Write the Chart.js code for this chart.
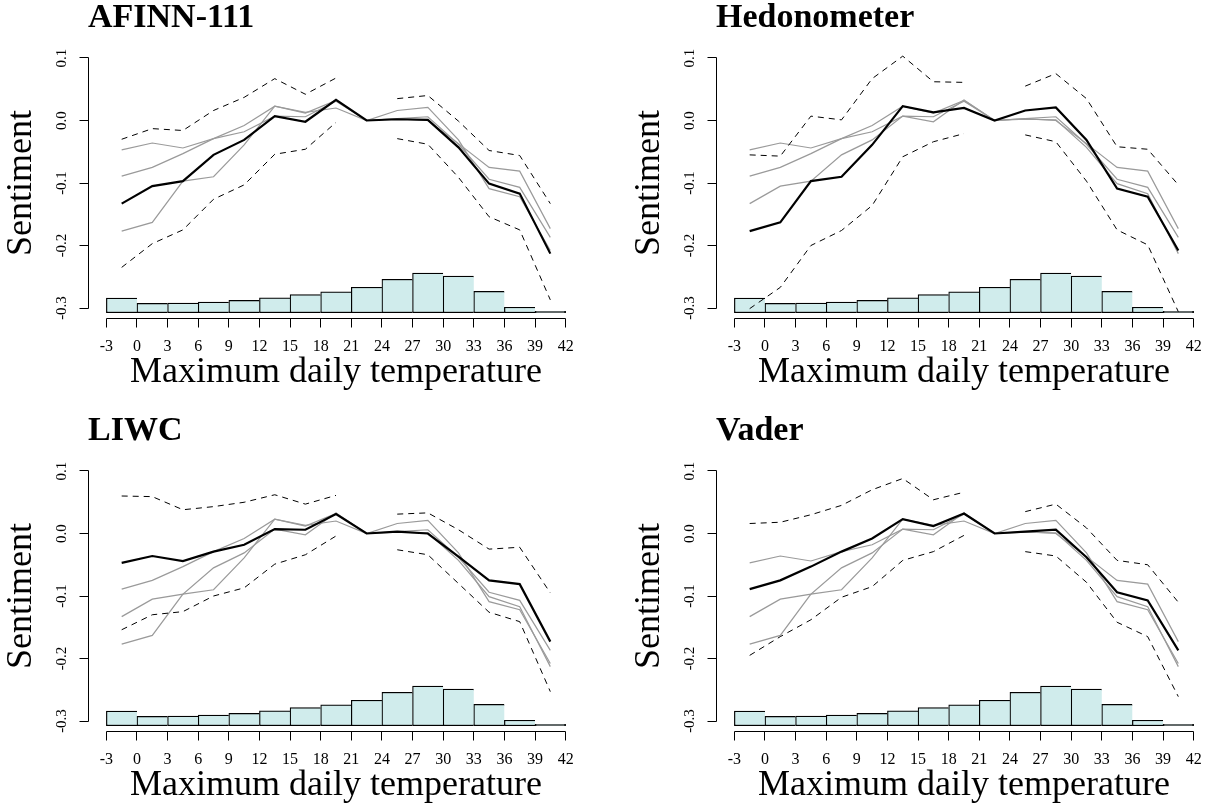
<!DOCTYPE html>
<html>
<head>
<meta charset="utf-8">
<script src="https://cdn.jsdelivr.net/npm/chart.js@4.4.1/dist/chart.umd.min.js"></script>
<style>
  html, body { margin: 0; padding: 0; background: #fff; overflow: hidden; }
  #wrap { position: relative; width: 1212px; height: 807px; }
  .panel { position: absolute; width: 584px; height: 394px; }
</style>
</head>
<body>
<div id="wrap">
  <div class="panel" style="left:0;top:0"><canvas id="afinn" width="584" height="394"></canvas></div>
  <div class="panel" style="left:628px;top:0"><canvas id="hedo" width="584" height="394"></canvas></div>
  <div class="panel" style="left:0;top:413px"><canvas id="liwc" width="584" height="394"></canvas></div>
  <div class="panel" style="left:628px;top:413px"><canvas id="vader" width="584" height="394"></canvas></div>
</div>
<script>
// bin centres of the 3-degree temperature bins
const temps = [-1.5, 1.5, 4.5, 7.5, 10.5, 13.5, 16.5, 19.5, 22.5, 25.5, 28.5, 31.5, 34.5, 37.5, 40.5];
const tempTicks = [-3, 0, 3, 6, 9, 12, 15, 18, 21, 24, 27, 30, 33, 36, 39, 42];
const sentTicks = [-0.3, -0.2, -0.1, 0.0, 0.1];

// share of days in each bin (%), drawn as the histogram at the bottom
const histShare = [5.3, 3.4, 3.5, 3.9, 4.5, 5.4, 6.6, 7.6, 9.3, 12.2, 14.5, 13.4, 7.8, 2.0, 0.5];

const afinnMean  = [-0.133, -0.105, -0.097, -0.055, -0.031, 0.007, -0.002, 0.033, 0, 0.002, 0.001, -0.043, -0.101, -0.117, -0.213];
const afinnUpper = [-0.030, -0.013, -0.016, 0.016, 0.037, 0.067, 0.042, 0.068, null, 0.035, 0.040, -0.001, -0.048, -0.056, -0.133];
const afinnLower = [-0.235, -0.197, -0.175, -0.126, -0.103, -0.054, -0.046, -0.003, null, -0.029, -0.038, -0.091, -0.154, -0.175, -0.287];

const hedoMean  = [-0.177, -0.163, -0.097, -0.090, -0.039, 0.023, 0.013, 0.020, 0, 0.016, 0.021, -0.031, -0.109, -0.122, -0.208];
const hedoUpper = [-0.055, -0.057, 0.007, 0.001, 0.067, 0.103, 0.062, 0.061, null, 0.055, 0.075, 0.035, -0.042, -0.046, -0.103];
const hedoLower = [-0.301, -0.267, -0.200, -0.176, -0.136, -0.058, -0.034, -0.021, null, -0.023, -0.034, -0.097, -0.175, -0.199, -0.306];

const liwcMean  = [-0.047, -0.036, -0.044, -0.029, -0.018, 0.007, 0.006, 0.031, 0, 0.003, 0.000, -0.037, -0.075, -0.081, -0.173];
const liwcUpper = [0.060, 0.059, 0.038, 0.043, 0.050, 0.062, 0.047, 0.061, null, 0.031, 0.033, 0.006, -0.025, -0.022, -0.095];
const liwcLower = [-0.154, -0.130, -0.125, -0.100, -0.087, -0.049, -0.034, -0.004, null, -0.026, -0.034, -0.080, -0.126, -0.141, -0.253];

const vaderMean  = [-0.089, -0.075, -0.053, -0.029, -0.008, 0.023, 0.012, 0.032, 0, 0.003, 0.006, -0.038, -0.094, -0.107, -0.187];
const vaderUpper = [0.016, 0.018, 0.030, 0.045, 0.070, 0.088, 0.054, 0.066, null, 0.035, 0.047, 0.009, -0.043, -0.050, -0.110];
const vaderLower = [-0.195, -0.165, -0.138, -0.102, -0.085, -0.043, -0.029, -0.003, null, -0.029, -0.036, -0.078, -0.142, -0.165, -0.261];

Chart.defaults.font.family = "'Liberation Serif', 'Times New Roman', serif";
Chart.defaults.color = '#000';

const toPoints = (arr) => arr.map((v, i) => ({ x: temps[i], y: v }));
const crisp = (px) => Math.round(px - 0.5) + 0.5;

// R style axes: line only from first to last tick, tick marks pointing out
const axisLines = {
  id: 'axisLines',
  afterDraw(chart) {
    const { ctx, chartArea, scales } = chart;
    const x = scales.x, y = scales.y;
    const lx = crisp(chartArea.left);
    const by = crisp(chartArea.bottom);
    ctx.save();
    ctx.strokeStyle = '#000';
    ctx.lineWidth = 1;
    ctx.beginPath();
    ctx.moveTo(lx, crisp(y.getPixelForValue(sentTicks[sentTicks.length - 1])));
    ctx.lineTo(lx, crisp(y.getPixelForValue(sentTicks[0])));
    sentTicks.forEach(v => {
      const py = crisp(y.getPixelForValue(v));
      ctx.moveTo(lx - 9, py);
      ctx.lineTo(lx, py);
    });
    ctx.moveTo(crisp(x.getPixelForValue(tempTicks[0])), by);
    ctx.lineTo(crisp(x.getPixelForValue(tempTicks[tempTicks.length - 1])), by);
    tempTicks.forEach(v => {
      const px = crisp(x.getPixelForValue(v));
      ctx.moveTo(px, by);
      ctx.lineTo(px, by + 9);
    });
    ctx.stroke();
    ctx.restore();
  }
};

function makePanel(id, title, main, upper, lower, others) {
  const datasets = [];

  datasets.push({
    type: 'bar',
    data: toPoints(histShare),
    yAxisID: 'yh',
    backgroundColor: 'rgb(208, 236, 236)',
    borderColor: '#000',
    borderWidth: (c) => ({ top: 1.2, bottom: 1.2, left: 1.2, right: c.dataIndex === histShare.length - 1 ? 1.2 : 0 }),
    borderSkipped: false,
    barPercentage: 1,
    categoryPercentage: 1,
    order: 10
  });

  others.forEach(o => {
    datasets.push({
      data: toPoints(o),
      borderColor: '#9a9a9a',
      borderWidth: 1.2,
      order: 5
    });
  });

  [upper, lower].forEach(b => {
    datasets.push({
      data: toPoints(b),
      borderColor: '#000',
      borderWidth: 1,
      borderDash: [6, 5],
      spanGaps: false,
      order: 2
    });
  });

  datasets.push({
    data: toPoints(main),
    borderColor: '#000',
    borderWidth: 2.2,
    order: 1
  });

  new Chart(document.getElementById(id), {
    type: 'line',
    data: { datasets: datasets },
    options: {
      responsive: false,
      animation: false,
      layout: { padding: 0 },
      elements: {
        point: { radius: 0 },
        line: { tension: 0, fill: false }
      },
      plugins: {
        legend: { display: false },
        tooltip: { enabled: false },
        title: {
          display: true,
          text: title,
          align: 'start',
          fullSize: false,
          color: '#000',
          font: { size: 34, weight: 'bold', lineHeight: 1 },
          padding: { top: 1, bottom: 13 }
        }
      },
      scales: {
        x: {
          type: 'linear',
          min: -4.8,
          max: 43.8,
          offset: false,
          afterBuildTicks: (s) => { s.ticks = tempTicks.map(v => ({ value: v })); },
          afterFit: (s) => { s.height = 76; },
          ticks: {
            autoSkip: false,
            maxRotation: 0,
            padding: 10,
            color: '#000',
            font: { size: 16 },
            callback: (v) => String(v)
          },
          grid: {
            drawOnChartArea: false,
            drawTicks: true,
            tickLength: 9,
            color: 'rgba(0,0,0,0)'
          },
          border: { display: false },
          title: {
            display: true,
            text: 'Maximum daily temperature',
            color: '#000',
            font: { size: 36 },
            padding: { top: 0, bottom: 0 }
          }
        },
        y: {
          min: -0.316,
          max: 0.116,
          afterBuildTicks: (s) => { s.ticks = sentTicks.map(v => ({ value: v })); },
          afterFit: (s) => { s.width = 88; },
          ticks: {
            minRotation: 90,
            maxRotation: 90,
            crossAlign: 'center',
            padding: 5,
            color: '#000',
            font: { size: 15 },
            callback: (v) => Number(v).toFixed(1)
          },
          grid: {
            drawOnChartArea: false,
            drawTicks: true,
            tickLength: 9,
            color: 'rgba(0,0,0,0)'
          },
          border: { display: false },
          title: {
            display: true,
            text: 'Sentiment',
            color: '#000',
            font: { size: 36 },
            padding: { top: 0, bottom: 0 }
          }
        },
        yh: {
          display: false,
          min: -1.94,
          max: 96.8
        }
      }
    },
    plugins: [axisLines]
  });
}

makePanel('afinn', 'AFINN-111', afinnMean, afinnUpper, afinnLower, [hedoMean, liwcMean, vaderMean]);
makePanel('hedo', 'Hedonometer', hedoMean, hedoUpper, hedoLower, [afinnMean, liwcMean, vaderMean]);
makePanel('liwc', 'LIWC', liwcMean, liwcUpper, liwcLower, [afinnMean, hedoMean, vaderMean]);
makePanel('vader', 'Vader', vaderMean, vaderUpper, vaderLower, [afinnMean, hedoMean, liwcMean]);
</script>
</body>
</html>
